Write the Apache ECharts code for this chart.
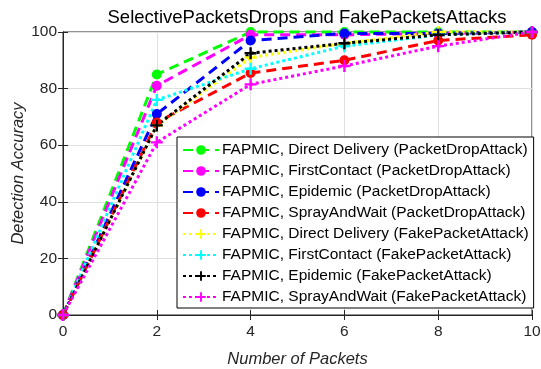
<!DOCTYPE html>
<html>
<head>
<meta charset="utf-8">
<script src="https://cdn.jsdelivr.net/npm/echarts@6/dist/echarts.min.js"></script>
<style>
  html, body { margin: 0; padding: 0; background: #fff; }
  #chart { width: 541px; height: 369px; }
</style>
</head>
<body>
<div id="chart"></div>
<script>
// Number of packets on the x axis
const packets = [0, 2, 4, 6, 8, 10];
const xTicks = [0, 2, 4, 6, 8, 10];
const yTicks = [0, 20, 40, 60, 80, 100];

// Detection accuracy, packet drop attack
const directDeliveryDrop = [0, 85, 100, 100, 100, 100];
const firstContactDrop   = [0, 81, 99, 99, 99.5, 100];
const epidemicDrop       = [0, 71, 97, 99.5, 99.5, 100];
const sprayAndWaitDrop   = [0, 68, 85.5, 90, 97, 99];

// Detection accuracy, fake packet attack
const directDeliveryFake = [0, 67, 91, 96, 100, 100];
const firstContactFake   = [0, 76, 87, 95, 99, 100];
const epidemicFake       = [0, 67, 92.5, 96, 99, 100];
const sprayAndWaitFake   = [0, 61, 81.5, 88, 95, 100];

const seriesNames = [
  'FAPMIC, Direct Delivery (PacketDropAttack)',
  'FAPMIC, FirstContact (PacketDropAttack)',
  'FAPMIC, Epidemic (PacketDropAttack)',
  'FAPMIC, SprayAndWait (PacketDropAttack)',
  'FAPMIC, Direct Delivery (FakePacketAttack)',
  'FAPMIC, FirstContact (FakePacketAttack)',
  'FAPMIC, Epidemic (FakePacketAttack)',
  'FAPMIC, SprayAndWait (FakePacketAttack)'
];
const seriesValues = [
  directDeliveryDrop, firstContactDrop, epidemicDrop, sprayAndWaitDrop,
  directDeliveryFake, firstContactFake, epidemicFake, sprayAndWaitFake
];
const seriesColors = ['#00ff00', '#ff00ff', '#0000ff', '#ff0000',
                      '#ffff00', '#00ffff', '#000000', '#ff00ff'];

const PLUS = 'path://M4,0H6V4H10V6H6V10H4V6H0V4H4Z';
const FONT = 'Liberation Sans, Arial, sans-serif';

const series = seriesNames.map((name, i) => {
  const isDrop = i < 4;
  return {
    name: name,
    type: 'line',
    data: packets.map((p, k) => [p, seriesValues[i][k]]),
    clip: false,
    symbol: isDrop ? 'circle' : PLUS,
    symbolSize: isDrop ? 10 : 12,
    showAllSymbol: true,
    color: seriesColors[i],
    lineStyle: {
      color: seriesColors[i],
      width: 3,
      type: isDrop ? [10, 6] : [3, 3]
    },
    itemStyle: { color: seriesColors[i], borderWidth: 0 },
    emphasis: { disabled: true },
    animation: false
  };
});

const chart = echarts.init(document.getElementById('chart'), null, { renderer: 'canvas' });
chart.setOption({
  animation: false,
  backgroundColor: '#fff',
  title: {
    text: 'SelectivePacketsDrops and FakePacketsAttacks',
    left: 302, top: 3, textAlign: 'center',
    textStyle: { fontFamily: FONT, fontSize: 18.5, fontWeight: 'normal', color: '#000' }
  },
  grid: { left: 63, right: 9, top: 32, bottom: 54, show: true,
          containLabel: false, outerBoundsMode: 'none',
          borderColor: '#262626', borderWidth: 1, backgroundColor: '#fff' },
  legend: {
    orient: 'vertical',
    left: 177, top: 137,
    itemWidth: 36, itemHeight: 12,
    itemGap: 5.0,
    padding: [5, 5, 3, 5],
    borderColor: '#000', borderWidth: 1,
    backgroundColor: '#fff',
    textStyle: { fontFamily: FONT, fontSize: 15.5, color: '#000', padding: [0, 0, 0, -2] },
    data: seriesNames
  },
  xAxis: [{
    type: 'value', min: 0, max: 10, interval: 2,
    name: 'Number of Packets', nameLocation: 'middle', nameGap: 36,
    nameMoveOverlap: false,
    nameTextStyle: { fontFamily: FONT, fontSize: 16.5, fontStyle: 'italic', color: '#262626' },
    axisLine: { show: true, lineStyle: { color: '#262626', width: 1 } },
    axisTick: { show: true, inside: true, length: 5, lineStyle: { color: '#262626' } },
    axisLabel: { margin: 9, fontFamily: FONT, fontSize: 15.5, color: '#262626',
                 formatter: v => xTicks.includes(v) ? String(v) : '' },
    splitLine: { show: true, lineStyle: { color: '#e0e0e0', width: 1 } }
  }, {
    type: 'value', min: 0, max: 10, interval: 2, position: 'top',
    axisLine: { show: true, lineStyle: { color: '#262626', width: 1 } },
    axisTick: { show: true, inside: true, length: 5, lineStyle: { color: '#262626' } },
    axisLabel: { show: false }, splitLine: { show: false }
  }],
  yAxis: [{
    type: 'value', min: 0, max: 100, interval: 20,
    name: 'Detection Accuracy', nameLocation: 'middle', nameGap: 36,
    nameMoveOverlap: false,
    nameTextStyle: { fontFamily: FONT, fontSize: 16.5, fontStyle: 'italic', color: '#262626' },
    axisLine: { show: true, lineStyle: { color: '#262626', width: 1 } },
    axisTick: { show: true, inside: true, length: 5, lineStyle: { color: '#262626' } },
    axisLabel: { margin: 6, fontFamily: FONT, fontSize: 15.5, color: '#262626',
                 formatter: v => yTicks.includes(v) ? String(v) : '' },
    splitLine: { show: true, lineStyle: { color: '#e0e0e0', width: 1 } }
  }, {
    type: 'value', min: 0, max: 100, interval: 20, position: 'right',
    axisLine: { show: true, lineStyle: { color: '#262626', width: 1 } },
    axisTick: { show: true, inside: true, length: 5, lineStyle: { color: '#262626' } },
    axisLabel: { show: false }, splitLine: { show: false }
  }],
  series: series
});
</script>
</body>
</html>
